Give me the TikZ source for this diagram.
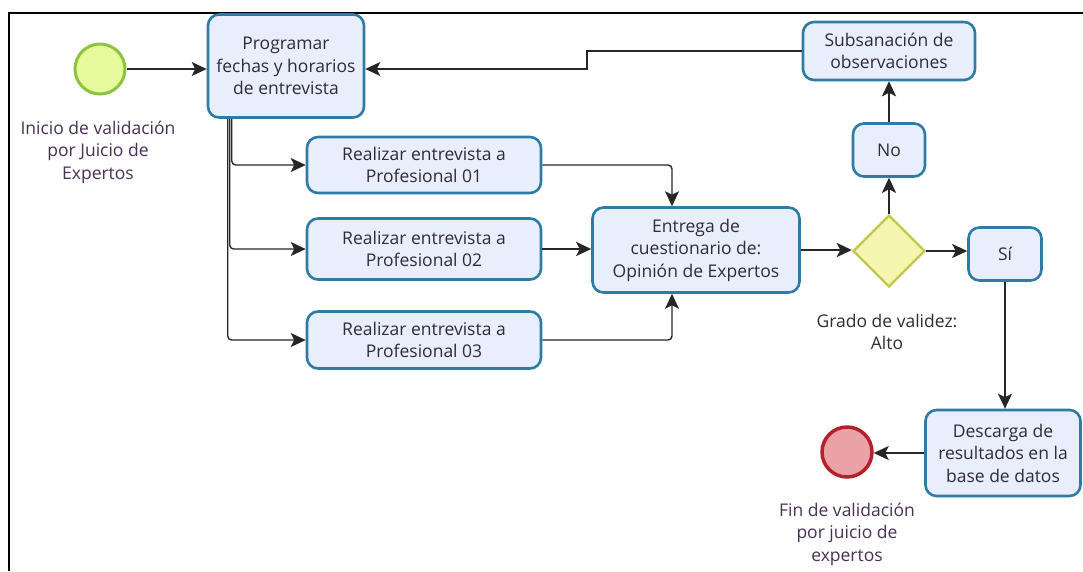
\documentclass[tikz,border=0pt]{standalone}
\usepackage{fontspec}
\setmainfont{Open Sans}
\usetikzlibrary{shapes.geometric,arrows.meta}
\definecolor{taskfill}{HTML}{E9EEFC}
\definecolor{taskline}{HTML}{2E7CA3}
\definecolor{txt}{HTML}{2F2C38}
\definecolor{lbl}{HTML}{4A3154}
\definecolor{startfill}{HTML}{E6F99C}
\definecolor{startline}{HTML}{8CC43F}
\definecolor{endfill}{HTML}{EBA2A6}
\definecolor{endline}{HTML}{B3222A}
\definecolor{gatefill}{HTML}{F4F6B0}
\definecolor{gateline}{HTML}{C2C84A}
\begin{document}
\begin{tikzpicture}[x=1pt,y=-1pt,
  every node/.style={font=\fontsize{17.5}{22.5}\selectfont, text=txt, align=center},
  task/.style={draw=taskline, fill=taskfill, line width=2.6pt, rounded corners=11pt, inner sep=0pt},
  startev/.style={circle, draw=startline, fill=startfill, line width=3pt, minimum size=50pt, inner sep=0pt},
  endev/.style={circle, draw=endline, fill=endfill, line width=3.5pt, minimum size=50pt, inner sep=0pt},
  gate/.style={diamond, draw=gateline, fill=gatefill, line width=2.4pt, minimum width=72pt, minimum height=72pt, inner sep=0pt},
  caption/.style={text=lbl},
  flow/.style={draw=black!85, line width=1.4pt, -{Stealth[length=15pt,width=14pt,inset=3.5pt]}},
  flowthick/.style={flow, line width=2.4pt},
  frameline/.style={draw=black, line width=2pt}]
\useasboundingbox (0,0) rectangle (1083,571);
\fill[white] (0,0) rectangle (1083,571);
% partial frame around the process
\draw[frameline] (9,571) -- (9,13) -- (1083,13);

% events and tasks
\node[startev] (start) at (100,69) {};
\node[caption] (startlbl) at (98,152) {Inicio de validación\\por Juicio de\\Expertos};
\node[task, minimum width=156pt, minimum height=103pt] (prog) at (286,66) {Programar\\fechas y horarios\\de entrevista};
\node[task, minimum width=234pt, minimum height=56pt] (r1) at (424,165) {Realizar entrevista a\\Profesional 01};
\node[task, minimum width=234pt, minimum height=61pt] (r2) at (424,249) {Realizar entrevista a\\Profesional 02};
\node[task, minimum width=234pt, minimum height=57pt] (r3) at (424,340) {Realizar entrevista a\\Profesional 03};
\node[task, minimum width=207pt, minimum height=85pt] (ent) at (696,250) {Entrega de\\cuestionario de:\\Opinión de Expertos};
\node[gate] (dia) at (889,251) {};
\node (grado) at (887,332) {Grado de validez:\\Alto};
\node[task, minimum width=72pt, minimum height=53pt] (no) at (889,150) {No};
\node[task, minimum width=172pt, minimum height=58pt] (subs) at (889,51) {Subsanación de\\observaciones};
\node[task, minimum width=73pt, minimum height=53pt] (si) at (1005,254) {Sí};
\node[task, minimum width=155pt, minimum height=86pt] (desc) at (1003,453) {Descarga de\\resultados en la\\base de datos};
\node[endev] (fin) at (847,452) {};
\node[caption] (finlbl) at (847,534) {Fin de validación\\por juicio de\\expertos};

% sequence flows
\coordinate (jog) at (587,60);
\draw[flow] (start) -- (prog.west |- start);
\draw[flow] (subs.west) -| (jog) |- (prog.east |- start);
\draw[flow, rounded corners=4pt] ([xshift=25pt]prog.south west) |- (r1.west);
\draw[flow, rounded corners=4pt] ([xshift=23pt]prog.south west) |- (r2.west);
\draw[flow, rounded corners=4pt] ([xshift=21pt]prog.south west) |- (r3.west);
\draw[flow, rounded corners=4pt] (r1.east) -| ([xshift=-24pt]ent.north);
\draw[flow, rounded corners=4pt] (r3.east) -| ([xshift=-24pt]ent.south);
\draw[flowthick] (r2.east) -- (ent.west |- r2.east);
\draw[flowthick] (ent.east) -- (dia.west |- ent.east);
\draw[flowthick] (dia.east) -- (si.west |- dia.east);
\draw[flowthick] (dia.north) -- (no.south);
\draw[flowthick] (no.north) -- (subs.south);
\draw[flow] (si.south) -- (si.south |- desc.north);
\draw[flow] (desc.west) -- (fin.east |- desc.west);
\end{tikzpicture}
\end{document}
